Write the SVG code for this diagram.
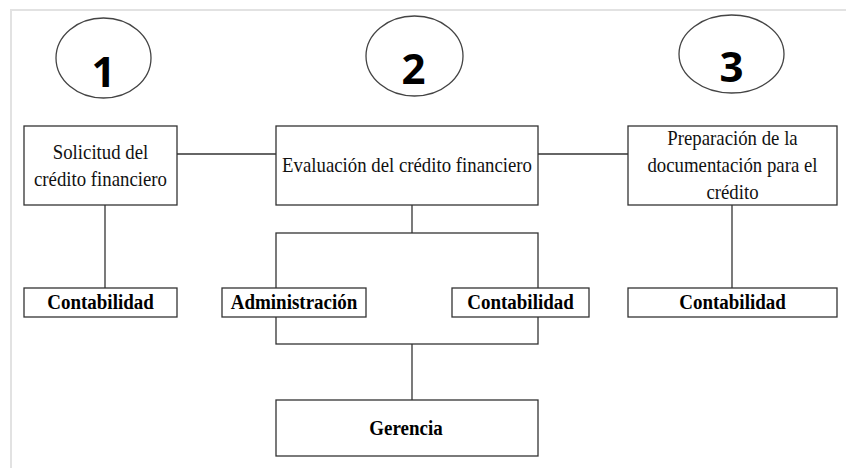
<svg xmlns="http://www.w3.org/2000/svg" width="846" height="468" viewBox="0 0 846 468">
  <style>
    .box { fill: #fff; stroke: #333; stroke-width: 1.3; }
    .ell { fill: #fff; stroke: #444; stroke-width: 1.3; }
    .con { fill: none; stroke: #333; stroke-width: 1.3; }
    .t { font-family: "Liberation Serif", "Times New Roman", serif; font-size: 18.8px; fill: #111; text-anchor: middle; }
    .b { font-family: "Liberation Serif", "Times New Roman", serif; font-size: 19px; font-weight: bold; fill: #000; text-anchor: middle; }
    .num { font-family: "Open Sans", "DejaVu Sans", sans-serif; font-size: 42px; font-weight: bold; fill: #000; text-anchor: middle; }
  </style>
  <rect width="846" height="468" fill="#fff"/>
  <path d="M11 468 V10 H846" fill="none" stroke="#e2e2e2" stroke-width="2"/>

  <g id="connectors">
    <line class="con" x1="177" y1="154" x2="276" y2="154"/>
    <line class="con" x1="538" y1="154" x2="628" y2="154"/>
    <line class="con" x1="105" y1="205" x2="105" y2="288"/>
    <line class="con" x1="412" y1="205" x2="412" y2="233"/>
    <rect class="con" x="276" y="233" width="262" height="111"/>
    <line class="con" x1="412" y1="344" x2="412" y2="400"/>
    <line class="con" x1="732" y1="205" x2="732" y2="288"/>
  </g>

  <g id="step1">
    <ellipse class="ell" cx="103.5" cy="58" rx="47.5" ry="40"/>
    <text class="num" x="103.5" y="87">1</text>
  </g>
  <g id="step2">
    <ellipse class="ell" cx="414.5" cy="56" rx="48.5" ry="40"/>
    <text class="num" x="413.5" y="84">2</text>
  </g>
  <g id="step3">
    <ellipse class="ell" cx="731.5" cy="54" rx="52.5" ry="39"/>
    <text class="num" x="731.5" y="82">3</text>
  </g>

  <g id="solicitud">
    <rect class="box" x="24" y="126" width="153" height="79"/>
    <text class="t" transform="translate(100.5 159) scale(1 1.1)">Solicitud del</text>
    <text class="t" transform="translate(100.5 185.5) scale(1 1.1)">crédito financiero</text>
  </g>
  <g id="evaluacion">
    <rect class="box" x="276" y="126" width="262" height="79"/>
    <text class="t" transform="translate(407 172) scale(1 1.1)">Evaluación del crédito financiero</text>
  </g>
  <g id="preparacion">
    <rect class="box" x="628" y="126" width="209" height="79"/>
    <text class="t" transform="translate(732.5 145) scale(1 1.1)">Preparación de la</text>
    <text class="t" transform="translate(732.5 172) scale(1 1.1)">documentación para el</text>
    <text class="t" transform="translate(732.5 199) scale(1 1.1)">crédito</text>
  </g>

  <g id="contabilidad1">
    <rect class="box" x="24" y="288" width="153" height="29"/>
    <text class="b" transform="translate(100.5 309) scale(1 1.1)">Contabilidad</text>
  </g>
  <g id="administracion">
    <rect class="box" x="222" y="288" width="144" height="29"/>
    <text class="b" transform="translate(294 309) scale(1 1.1)">Administración</text>
  </g>
  <g id="contabilidad2">
    <rect class="box" x="452" y="288" width="137" height="29"/>
    <text class="b" transform="translate(520.5 309) scale(1 1.1)">Contabilidad</text>
  </g>
  <g id="contabilidad3">
    <rect class="box" x="628" y="288" width="209" height="29"/>
    <text class="b" transform="translate(732.5 309) scale(1 1.1)">Contabilidad</text>
  </g>
  <g id="gerencia">
    <rect class="box" x="276" y="400" width="262" height="56"/>
    <text class="b" transform="translate(406 435) scale(1 1.1)">Gerencia</text>
  </g>
</svg>
